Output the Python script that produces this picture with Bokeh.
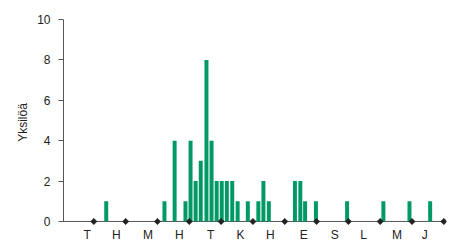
from bokeh.plotting import figure
from bokeh.models import Range1d, FixedTicker
from bokeh.embed import file_html
from bokeh.resources import INLINE

# Data (x in month units, 0 = start of January)
bar_x = [1.39, 3.22, 3.54, 3.88, 4.04, 4.20, 4.36, 4.54, 4.70, 4.86, 5.02, 5.18, 5.35,
         5.52, 5.84, 6.17, 6.33, 6.50, 7.32, 7.49, 7.64, 7.98, 8.96, 10.10, 10.92, 11.57]
bar_counts = [1, 1, 4, 1, 4, 2, 3, 8, 4, 2, 2, 2, 2, 1, 1, 1, 2, 1, 2, 2, 1, 1, 1, 1, 1, 1]
month_ends = [1, 2, 3, 4, 5, 6, 7, 8, 9, 10, 11, 12]
month_labels = ["T", "H", "M", "H", "T", "K", "H", "E", "S", "L", "M", "J"]
label_pos = [0.79, 1.71, 2.70, 3.69, 4.67, 5.61, 6.55, 7.60, 8.57, 9.48, 10.53, 11.40]
y_ticks = [0, 2, 4, 6, 8, 10]
y_max = 10

GREEN = "#009966"
TEXT = "#222222"
AXIS = "#555555"
FONT = "Liberation Sans"

PX_PER_MONTH = 31.82
x0 = 0.5 / PX_PER_MONTH
x1 = x0 + 384 / PX_PER_MONTH
axis_x = x0 + 1 / PX_PER_MONTH

p = figure(width=460, height=244, output_backend="svg", toolbar_location=None,
           x_range=Range1d(x0, x1), y_range=Range1d(-0.2, 10),
           min_border_left=62, min_border_right=14, min_border_top=19, min_border_bottom=0)
p.outline_line_color = None
p.grid.visible = False
p.background_fill_color = "white"
p.border_fill_color = "white"

# axis lines drawn in data space so that the baseline markers are not clipped
p.segment(x0=[x0], y0=[0], x1=[month_ends[-1]], y1=[0], line_color=AXIS, line_width=1)
p.segment(x0=[axis_x], y0=[0], x1=[axis_x], y1=[y_max], line_color=AXIS, line_width=1)

p.vbar(x=bar_x, top=bar_counts, bottom=0, width=0.125, fill_color=GREEN, line_color=None)
p.scatter(x=month_ends, y=[0] * len(month_ends), marker="square", angle=0.785398, size=4.5,
          fill_color=TEXT, line_color=TEXT, line_width=0.5)

# y axis
ya = p.yaxis[0]
ya.ticker = FixedTicker(ticks=y_ticks)
ya.major_tick_out = 4
ya.major_tick_in = 1
ya.minor_tick_line_color = None
ya.axis_line_color = None
ya.major_tick_line_color = AXIS
ya.major_label_text_font = FONT
ya.major_label_text_font_size = "12px"
ya.major_label_text_color = TEXT
ya.major_label_standoff = 8
ya.axis_label = "Yksilöä"
ya.axis_label_text_font = FONT
ya.axis_label_text_font_size = "12px"
ya.axis_label_text_font_style = "normal"
ya.axis_label_text_color = TEXT
ya.axis_label_standoff = 4

# x axis
xa = p.xaxis[0]
xa.ticker = FixedTicker(ticks=label_pos)
xa.major_label_overrides = {v: t for v, t in zip(label_pos, month_labels)}
xa.major_tick_line_color = None
xa.major_tick_out = 0
xa.major_tick_in = 0
xa.minor_tick_line_color = None
xa.axis_line_color = None
xa.major_label_text_font = FONT
xa.major_label_text_font_size = "12px"
xa.major_label_text_color = TEXT
xa.major_label_standoff = 2

open("out.html", "w").write(file_html(p, INLINE))
